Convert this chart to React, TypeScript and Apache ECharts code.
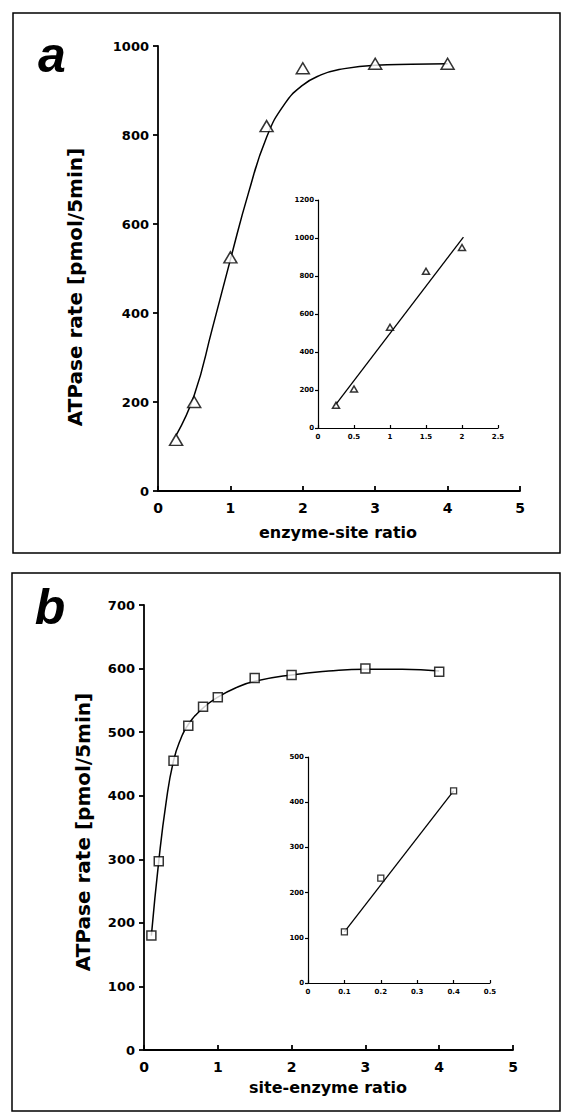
import React, { useEffect, useRef } from "react";
import * as echarts from "echarts";

// ---------- Panel a ----------
const aPointsX = [0.25, 0.5, 1.0, 1.5, 2.0, 3.0, 4.0];
const aPointsY = [115, 200, 525, 820, 950, 960, 960];
const aCurveX = [0.25, 0.5, 0.75, 1.0, 1.25, 1.5, 1.75, 2.0, 2.25, 2.5, 3.0, 3.5, 4.0];
const aCurveY = [125, 215, 365, 520, 670, 795, 870, 912, 935, 947, 957, 959, 960];
const aInsetX = [0.25, 0.5, 1.0, 1.5, 2.0];
const aInsetY = [120, 205, 530, 825, 950];
const aInsetLineX = [0.23, 2.02];
const aInsetLineY = [115, 1005];

// ---------- Panel b ----------
const bPointsX = [0.1, 0.2, 0.4, 0.6, 0.8, 1.0, 1.5, 2.0, 3.0, 4.0];
const bPointsY = [180, 297, 455, 510, 540, 555, 585, 590, 600, 595];
const bCurveX = [0.1, 0.2, 0.3, 0.4, 0.5, 0.6, 0.8, 1.0, 1.25, 1.5, 2.0, 2.5, 3.0, 3.5, 4.0];
const bCurveY = [180, 297, 390, 455, 490, 512, 538, 555, 570, 580, 590, 596, 599, 599, 596];
const bInsetX = [0.1, 0.2, 0.4];
const bInsetY = [113, 232, 425];
const bInsetLineX = [0.1, 0.4];
const bInsetLineY = [113, 425];

// ---------- Texts ----------
const panelLetters = ["a", "b"];
const xTitles = ["enzyme-site ratio", "site-enzyme ratio"];
const yTitle = "ATPase rate [pmol/5min]";

const zip = (xs: number[], ys: number[]) => xs.map((x, i) => [x, ys[i]]);

const FONT = "DejaVu Sans";
const fmt = (v: number) => String(Math.round(v * 1000) / 1000);

function xAxis(gridIndex: number, max: number, interval: number, fontSize: number, tickLen: number, margin: number, w: number) {
  return {
    type: "value",
    gridIndex,
    min: 0,
    max,
    interval,
    axisLine: { show: true, onZero: false, lineStyle: { color: "#000", width: w } },
    axisTick: { show: true, inside: true, length: tickLen, lineStyle: { color: "#000", width: w } },
    axisLabel: { color: "#000", fontFamily: FONT, fontWeight: "bold", fontSize, margin, formatter: fmt },
    splitLine: { show: false },
  };
}

function yAxis(gridIndex: number, max: number, interval: number, fontSize: number, tickLen: number, margin: number, w: number) {
  return {
    type: "value",
    gridIndex,
    min: 0,
    max,
    interval,
    axisLine: { show: true, onZero: false, lineStyle: { color: "#000", width: w } },
    axisTick: { show: true, inside: false, length: tickLen, lineStyle: { color: "#000", width: w } },
    axisLabel: { color: "#000", fontFamily: FONT, fontWeight: "bold", fontSize, margin, formatter: fmt },
    splitLine: { show: false },
  };
}

export default function App() {
  const ref = useRef<HTMLDivElement>(null);

  useEffect(() => {
    document.body.style.margin = "0";
    const el = ref.current;
    if (!el) return;
    const chart = echarts.init(el, null, { renderer: "svg" });

    const lineStyle = { color: "#000", width: 1.5 };
    const hollow = { color: "#fff", borderColor: "#000", borderWidth: 1.5 };

    const option: any = {
      animation: false,
      backgroundColor: "#fff",
      grid: [
        { left: 158, top: 46, width: 362, height: 445 },
        { left: 318, top: 200, width: 180, height: 228 },
        { left: 144, top: 605, width: 369, height: 445 },
        { left: 308, top: 757, width: 182, height: 226 },
      ],
      xAxis: [
        xAxis(0, 5, 1, 14, 5, 10, 1.8),
        xAxis(1, 2.5, 0.5, 7, 3, 5, 1.2),
        xAxis(2, 5, 1, 14, 5, 10, 1.8),
        xAxis(3, 0.5, 0.1, 7, 3, 5, 1.2),
      ],
      yAxis: [
        yAxis(0, 1000, 200, 13, 5, 9, 1.8),
        yAxis(1, 1200, 200, 7, 3, 4, 1.2),
        yAxis(2, 700, 100, 13, 5, 9, 1.8),
        yAxis(3, 500, 100, 7, 3, 4, 1.2),
      ],
      series: [
        {
          type: "line",
          xAxisIndex: 0,
          yAxisIndex: 0,
          data: zip(aCurveX, aCurveY),
          smooth: 0.5,
          showSymbol: false,
          lineStyle,
          z: 2,
        },
        {
          type: "scatter",
          xAxisIndex: 0,
          yAxisIndex: 0,
          data: zip(aPointsX, aPointsY),
          symbol: "triangle",
          symbolSize: [13, 11],
          itemStyle: hollow,
          z: 3,
        },
        {
          type: "line",
          xAxisIndex: 1,
          yAxisIndex: 1,
          data: zip(aInsetLineX, aInsetLineY),
          showSymbol: false,
          lineStyle: { color: "#000", width: 1.3 },
          z: 2,
        },
        {
          type: "scatter",
          xAxisIndex: 1,
          yAxisIndex: 1,
          data: zip(aInsetX, aInsetY),
          symbol: "triangle",
          symbolSize: [7, 6],
          itemStyle: { color: "#fff", borderColor: "#000", borderWidth: 1.5 },
          z: 3,
        },
        {
          type: "line",
          xAxisIndex: 2,
          yAxisIndex: 2,
          data: zip(bCurveX, bCurveY),
          smooth: 0.5,
          showSymbol: false,
          lineStyle,
          z: 2,
        },
        {
          type: "scatter",
          xAxisIndex: 2,
          yAxisIndex: 2,
          data: zip(bPointsX, bPointsY),
          symbol: "rect",
          symbolSize: 9,
          itemStyle: hollow,
          z: 3,
        },
        {
          type: "line",
          xAxisIndex: 3,
          yAxisIndex: 3,
          data: zip(bInsetLineX, bInsetLineY),
          showSymbol: false,
          lineStyle: { color: "#000", width: 1.3 },
          z: 2,
        },
        {
          type: "scatter",
          xAxisIndex: 3,
          yAxisIndex: 3,
          data: zip(bInsetX, bInsetY),
          symbol: "rect",
          symbolSize: 6,
          itemStyle: { color: "#fff", borderColor: "#000", borderWidth: 1.3 },
          z: 3,
        },
      ],
      graphic: [
        {
          type: "rect",
          shape: { x: 13, y: 13, width: 547, height: 540 },
          style: { fill: "none", stroke: "#000", lineWidth: 1.5 },
          silent: true,
        },
        {
          type: "rect",
          shape: { x: 12, y: 573, width: 548, height: 538 },
          style: { fill: "none", stroke: "#000", lineWidth: 1.5 },
          silent: true,
        },
        {
          type: "text",
          x: 52,
          y: 55,
          style: {
            text: panelLetters[0],
            font: "italic bold 50px 'Liberation Sans', Arial, sans-serif",
            fill: "#000",
            align: "center",
            verticalAlign: "middle",
          },
        },
        {
          type: "text",
          x: 50,
          y: 607,
          style: {
            text: panelLetters[1],
            font: "italic bold 50px 'Liberation Sans', Arial, sans-serif",
            fill: "#000",
            align: "center",
            verticalAlign: "middle",
          },
        },
        {
          type: "text",
          x: 338,
          y: 532,
          style: {
            text: xTitles[0],
            font: `bold 16px '${FONT}', sans-serif`,
            fill: "#000",
            align: "center",
            verticalAlign: "middle",
          },
        },
        {
          type: "text",
          x: 328,
          y: 1087,
          style: {
            text: xTitles[1],
            font: `bold 16px '${FONT}', sans-serif`,
            fill: "#000",
            align: "center",
            verticalAlign: "middle",
          },
        },
        {
          type: "text",
          x: 75,
          y: 287,
          rotation: Math.PI / 2,
          style: {
            text: yTitle,
            font: `bold 20px '${FONT}', sans-serif`,
            fill: "#000",
            align: "center",
            verticalAlign: "middle",
          },
        },
        {
          type: "text",
          x: 83,
          y: 832,
          rotation: Math.PI / 2,
          style: {
            text: yTitle,
            font: `bold 20px '${FONT}', sans-serif`,
            fill: "#000",
            align: "center",
            verticalAlign: "middle",
          },
        },
      ],
    };

    chart.setOption(option);
    return () => chart.dispose();
  }, []);

  return <div ref={ref} style={{ width: 564, height: 1114 }} />;
}
